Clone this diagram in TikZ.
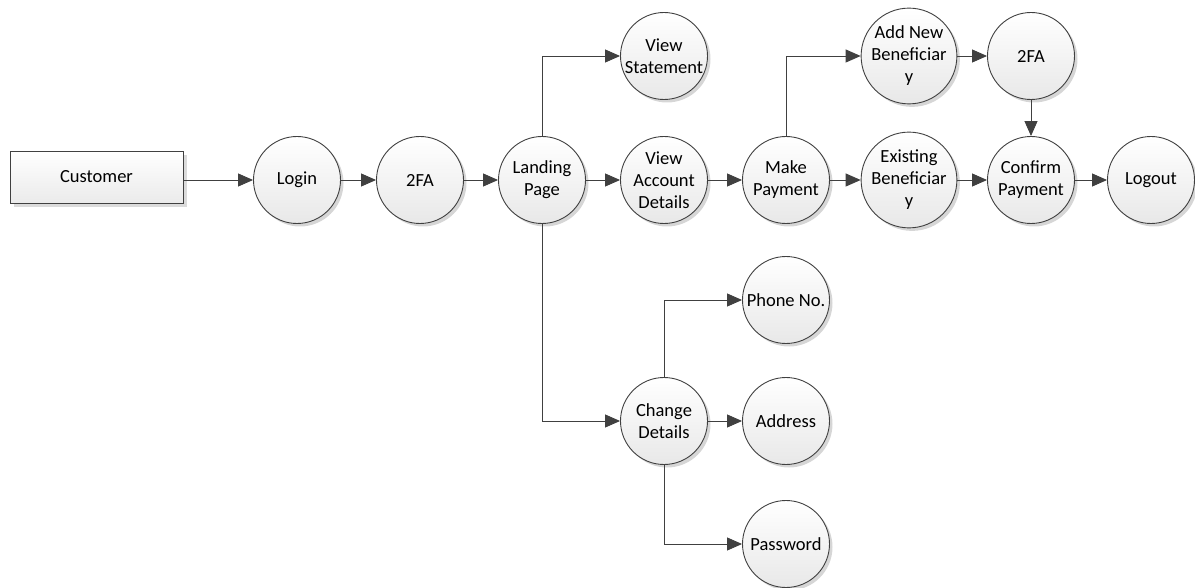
\documentclass[tikz,border=0pt]{standalone}
\usepackage{fontspec}
\setmainfont{Carlito}
\usetikzlibrary{arrows.meta,shadows}
\definecolor{linegray}{HTML}{404040}
\tikzset{
  proc/.style={circle, draw=linegray, line width=0.9pt, minimum size=87pt, inner sep=0pt,
    top color=white, bottom color=black!9, align=center,
    font=\fontsize{18.5}{22}\selectfont, text=black,
    drop shadow={shadow xshift=3pt, shadow yshift=-3pt, fill=black!16, opacity=1}},
  ext/.style={rectangle, draw=linegray, line width=0.9pt, minimum width=173pt, minimum height=52pt,
    inner sep=0pt, top color=white, bottom color=black!8,
    font=\fontsize{18.5}{22}\selectfont, text=black,
    drop shadow={shadow xshift=4pt, shadow yshift=-4pt, fill=black!14, opacity=1}},
  flow/.style={draw=linegray, line width=0.9pt, -{Triangle[length=15pt,width=13pt]}, color=linegray}
}
\begin{document}
\begin{tikzpicture}[x=1pt,y=-1pt]
\useasboundingbox (0,0) rectangle (1195,588);
\node[ext] (cust) at (96.5,177) {Customer};
\node[proc] (login) at (297,180) {Login};
\node[proc] (tfa) at (420,180) {2FA};
\node[proc] (land) at (542,180) {Landing\\Page};
\node[proc] (vs) at (664,56) {View\\Statement};
\node[proc] (vad) at (664,180) {View\\Account\\Details};
\node[proc] (mp) at (786,180) {Make\\Payment};
\node[proc] (anb) at (909,56) {Add New\\Beneficiar\\y};
\node[proc] (tfb) at (1031,56) {2FA};
\node[proc] (eb) at (909,180) {Existing\\Beneficiar\\y};
\node[proc] (cp) at (1031,180) {Confirm\\Payment};
\node[proc] (lo) at (1151,180) {Logout};
\node[proc] (cd) at (664,421) {Change\\Details};
\node[proc] (ph) at (786,300) {Phone No.};
\node[proc] (ad) at (786,421) {Address};
\node[proc] (pw) at (786,544) {Password};

\draw[flow] (cust.east |- login.west) -- (login.west);
\draw[flow] (login) -- (tfa);
\draw[flow] (tfa) -- (land);
\draw[flow] (land) -- (vad);
\draw[flow] (vad) -- (mp);
\draw[flow] (mp) -- (eb);
\draw[flow] (eb) -- (cp);
\draw[flow] (cp) -- (lo);
\draw[flow] (anb) -- (tfb);
\draw[flow] (tfb) -- (cp);
\draw[flow] (land.north) |- (vs.west);
\draw[flow] (mp.north) |- (anb.west);
\draw[flow] (land.south) |- (cd.west);
\draw[flow] (cd.north) |- (ph.west);
\draw[flow] (cd) -- (ad);
\draw[flow] (cd.south) |- (pw.west);
\end{tikzpicture}
\end{document}
